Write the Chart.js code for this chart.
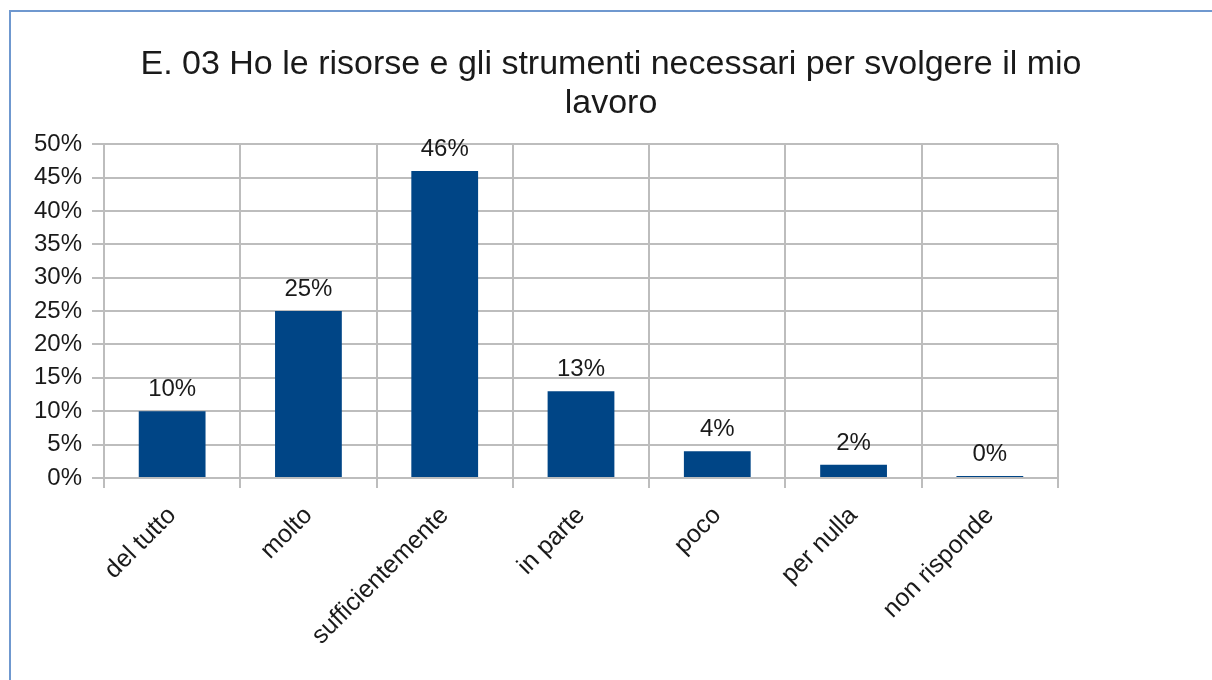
<!DOCTYPE html>
<html>
<head>
<meta charset="utf-8">
<script src="https://cdn.jsdelivr.net/npm/chart.js@4/dist/chart.umd.min.js"></script>
<style>
  html, body { margin: 0; padding: 0; background: #fff; }
  #wrap { position: relative; width: 1212px; height: 680px; overflow: hidden; }
  #frame { position: absolute; left: 9px; top: 10px; width: 1220px; height: 700px;
           border-left: 2px solid #6f98cf; border-top: 2px solid #6f98cf; box-sizing: border-box; }
  canvas { position: absolute; left: 0; top: 0; }
</style>
</head>
<body>
<div id="wrap">
  <div id="frame"></div>
  <canvas id="c" width="1212" height="680"></canvas>
</div>
<script>
const titleLines = ["E. 03 Ho le risorse e gli strumenti necessari per svolgere il mio", "lavoro"];
const categories = ["del tutto", "molto", "sufficientemente", "in parte", "poco", "per nulla", "non risponde"];
const values = [10, 25, 46, 13, 4, 2, 0];
const yTicks = [0, 5, 10, 15, 20, 25, 30, 35, 40, 45, 50];

const FONT = "'Liberation Sans', Arial, sans-serif";

const valueLabels = {
  id: 'valueLabels',
  afterDatasetsDraw(chart) {
    const ctx = chart.ctx;
    const meta = chart.getDatasetMeta(0);
    ctx.save();
    ctx.font = "24px " + FONT;
    ctx.fillStyle = "#1a1a1a";
    ctx.textAlign = "center";
    ctx.textBaseline = "alphabetic";
    meta.data.forEach((bar, i) => {
      ctx.fillText(values[i] + "%", bar.x, bar.y - 15);
    });
    ctx.restore();
  }
};

new Chart(document.getElementById('c'), {
  type: 'bar',
  data: {
    labels: categories,
    datasets: [{
      data: values,
      backgroundColor: '#004586',
      borderWidth: 0,
      barPercentage: 0.49,
      categoryPercentage: 1,
      minBarLength: 2
    }]
  },
  plugins: [valueLabels],
  options: {
    responsive: false,
    animation: false,
    devicePixelRatio: 1,
    layout: { padding: { top: 10, right: 0, bottom: 0, left: 10 } },
    plugins: {
      legend: { display: false },
      tooltip: { enabled: false },
      title: {
        display: true,
        text: titleLines,
        color: '#1a1a1a',
        font: { family: FONT, size: 34, weight: 'normal', lineHeight: 1.15 },
        padding: { top: 35, bottom: 21 }
      }
    },
    scales: {
      x: {
        offset: true,
        grid: { offset: true, color: '#bdbdbd', lineWidth: 2, tickLength: 10, drawOnChartArea: true },
        border: { display: true, color: '#bdbdbd', width: 2 },
        ticks: {
          color: '#1a1a1a',
          font: { family: FONT, size: 25 },
          minRotation: 45, maxRotation: 45,
          padding: 13,
          autoSkip: false
        },
        afterFit(scale) { scale.height = 202; }
      },
      y: {
        min: 0, max: 50,
        afterBuildTicks(scale) { scale.ticks = yTicks.map(v => ({ value: v })); },
        grid: { color: '#bdbdbd', lineWidth: 2, tickLength: 12 },
        border: { display: true, color: '#bdbdbd', width: 2 },
        ticks: {
          color: '#1a1a1a',
          font: { family: FONT, size: 24 },
          padding: 10,
          callback: v => v + '%'
        },
        afterFit(scale) { scale.width = 94; }
      },
      yRight: {
        position: 'right',
        display: true,
        min: 0, max: 50,
        grid: { display: false, drawTicks: false },
        border: { display: false },
        ticks: { display: false },
        afterFit(scale) { scale.width = 154; }
      }
    }
  }
});
</script>
</body>
</html>
